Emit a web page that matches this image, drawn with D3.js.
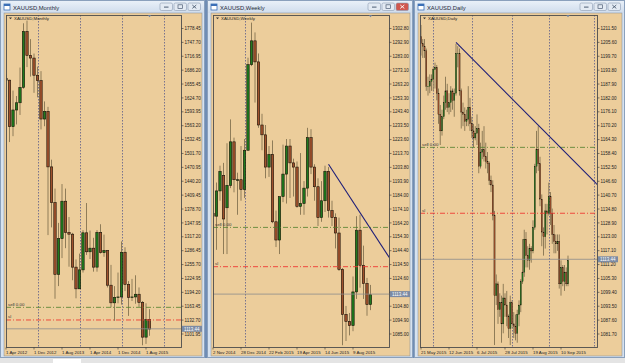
<!DOCTYPE html>
<html>
<head>
<meta charset="utf-8">
<script src="https://cdn.jsdelivr.net/npm/d3@7"></script>
<style>
  body { margin: 0; background: #dde4ec; }
  svg { display: block; }
  text { font-family: "Liberation Sans", Arial, sans-serif; }
</style>
</head>
<body>
<svg id="chart" width="625" height="363"></svg>
<script>
// ---- monthly XAUUSD, Apr 2012 .. Sep 2015  [open, high, low, close]
var monthlyOHLC = [
  [1668,1677,1627,1664],[1664,1665,1527,1561],[1561,1641,1540,1598],[1598,1629,1566,1614],
  [1614,1692,1587,1648],[1648,1790,1645,1772],[1772,1796,1693,1719],[1719,1755,1672,1713],
  [1713,1723,1636,1675],[1675,1694,1626,1663],[1663,1684,1555,1578],[1578,1617,1562,1595],
  [1595,1605,1321,1472],[1472,1488,1338,1393],[1393,1424,1180,1234],[1234,1348,1208,1313],
  [1313,1434,1270,1396],[1396,1424,1292,1327],[1327,1361,1251,1323],[1323,1326,1221,1250],
  [1250,1267,1181,1202],[1202,1280,1202,1244],[1244,1332,1238,1326],[1326,1392,1277,1284],
  [1284,1331,1268,1292],[1292,1315,1240,1250],[1250,1332,1240,1327],[1327,1345,1280,1282],
  [1282,1322,1273,1287],[1287,1287,1205,1210],[1210,1255,1161,1171],[1171,1208,1131,1183],
  [1183,1238,1170,1184],[1184,1307,1167,1283],[1283,1294,1197,1212],[1212,1219,1142,1183],
  [1183,1224,1175,1184],[1184,1232,1169,1190],[1190,1205,1162,1172],[1172,1175,1077,1095],
  [1095,1170,1080,1134],[1134,1157,1098,1113]
]
var monthlyTicks = ['1778.45','1747.70','1716.95','1686.20','1655.45','1624.70','1593.95','1563.20',
  '1532.45','1501.70','1470.95','1440.20','1409.45','1378.70','1347.95','1317.20','1286.45',
  '1255.70','1224.95','1194.20','1163.45','1132.70','1101.95']
var monthlyDates = ['1 Apr 2012','1 Dec 2012','1 Aug 2013','1 Apr 2014','1 Dec 2014','1 Aug 2015']
var monthlyDateIdx = [0, 8, 16, 24, 32, 40]
var monthlySeps = [9, 21, 33, 45]

// ---- weekly XAUUSD, week of 26 Oct 2014 .. 13 Sep 2015
var weeklyOHLC = [
  [1231,1237,1161,1171],[1171,1177,1131,1169],[1169,1193,1145,1187],[1187,1205,1180,1201],
  [1198,1207,1142,1167],[1175,1221,1142,1191],[1191,1238,1189,1222],[1222,1225,1186,1195],
  [1195,1200,1170,1195],[1195,1219,1180,1188],[1188,1224,1182,1216],[1216,1282,1216,1277],
  [1277,1307,1276,1294],[1294,1300,1250,1279],[1279,1285,1232,1234],[1234,1242,1216,1227],
  [1227,1234,1196,1204],[1204,1219,1197,1213],[1213,1223,1164,1165],[1165,1173,1147,1152],
  [1152,1178,1142,1183],[1183,1220,1179,1199],[1199,1224,1178,1219],[1219,1224,1182,1207],
  [1207,1210,1183,1204],[1204,1208,1175,1176],[1176,1214,1170,1178],[1178,1194,1170,1189],
  [1189,1232,1183,1225],[1225,1231,1199,1204],[1204,1206,1180,1190],[1190,1196,1162,1168],
  [1168,1194,1165,1180],[1180,1205,1172,1201],[1201,1204,1168,1173],[1173,1180,1162,1168],
  [1168,1171,1146,1157],[1157,1168,1130,1131],[1131,1132,1077,1099],[1099,1105,1080,1094],
  [1094,1100,1084,1091],[1091,1126,1087,1115],[1115,1169,1110,1159],[1159,1170,1118,1134],
  [1134,1148,1110,1121],[1121,1125,1098,1106],[1106,1120,1102,1113]
]
var weeklyTicks = ['1302.80','1292.90','1283.00','1273.10','1263.20','1253.30','1243.40','1233.50',
  '1223.60','1213.70','1203.80','1193.90','1184.00','1174.10','1164.20','1154.30','1144.40',
  '1134.50','1124.60','1114.70','1104.80','1094.90','1085.00']
var weeklyDates = ['2 Nov 2014','28 Dec 2014','22 Feb 2015','19 Apr 2015','14 Jun 2015','9 Aug 2015']
var weeklyDateIdx = [1, 9, 17, 25, 33, 41]
var weeklySeps = [10]
var weeklyTrend = [[34, 1206], [51.5, 1139]]

// ---- daily XAUUSD, 21 May 2015 .. 16 Sep 2015
var dailyOHLC = [
  [1208,1213,1200,1205],[1205,1207,1199,1204],[1204,1207,1199,1202],[1202,1203,1185,1187],
  [1187,1191,1183,1187],[1187,1192,1184,1189],[1189,1192,1185,1190],[1190,1195,1185,1194],
  [1194,1197,1186,1195],[1195,1196,1181,1184],[1184,1186,1171,1175],[1175,1179,1162,1168],
  [1168,1177,1166,1174],[1174,1183,1173,1180],[1180,1191,1177,1185],[1185,1188,1176,1178],
  [1178,1184,1175,1180],[1180,1187,1176,1185],[1185,1186,1177,1181],[1181,1186,1174,1184],
  [1184,1205,1183,1201],[1201,1204,1195,1201],[1201,1203,1183,1185],[1185,1186,1169,1176],
  [1176,1180,1170,1175],[1175,1178,1168,1172],[1172,1177,1170,1173],[1173,1187,1170,1178],
  [1178,1182,1168,1171],[1171,1174,1165,1168],[1168,1171,1161,1165],[1165,1170,1164,1167],
  [1167,1175,1162,1169],[1169,1171,1150,1153],[1153,1163,1152,1159],[1159,1168,1156,1160],
  [1160,1170,1155,1157],[1157,1163,1152,1155],[1155,1159,1150,1154],[1154,1155,1145,1147],
  [1147,1149,1142,1145],[1145,1147,1130,1132],[1132,1134,1077,1098],[1098,1107,1094,1103],
  [1103,1104,1086,1092],[1092,1099,1089,1095],[1095,1098,1078,1086],[1086,1103,1082,1097],
  [1097,1099,1089,1094],[1094,1100,1085,1089],[1089,1090,1080,1084],[1084,1098,1077,1095],
  [1095,1096,1084,1086],[1086,1091,1080,1085],[1085,1090,1079,1082],[1082,1092,1078,1090],
  [1090,1096,1085,1094],[1094,1105,1091,1104],[1104,1122,1103,1108],[1108,1126,1106,1122],
  [1122,1125,1110,1115],[1115,1119,1110,1113],[1113,1120,1109,1118],[1118,1119,1112,1117],
  [1117,1130,1116,1127],[1127,1154,1126,1153],[1153,1168,1150,1160],[1160,1170,1151,1154],
  [1154,1157,1136,1139],[1139,1141,1119,1125],[1125,1127,1115,1123],[1123,1137,1118,1134],
  [1134,1137,1124,1133],[1133,1146,1132,1140],[1140,1142,1128,1133],[1133,1135,1120,1124],
  [1124,1128,1116,1121],[1121,1124,1116,1120],[1120,1124,1117,1121],[1121,1124,1101,1103],
  [1103,1113,1098,1110],[1110,1111,1102,1104],[1104,1111,1100,1108],[1108,1110,1102,1103],
  [1103,1115,1102,1113]
]
var dailyTicks = ['1211.50','1205.60','1199.70','1193.80','1187.90','1182.00','1176.10','1170.20',
  '1164.30','1158.40','1152.50','1146.60','1140.70','1134.80','1128.90','1123.00','1117.10',
  '1111.20','1105.30','1099.40','1093.50','1087.60','1081.70']
var dailyDates = ['21 May 2015','12 Jun 2015','6 Jul 2015','28 Jul 2015','19 Aug 2015','10 Sep 2015']
var dailyDateIdx = [0, 16, 32, 48, 64, 80]
var dailySeps = [7, 29, 52, 73, 99]
var dailyTrend = [[20, 1205.6], [101, 1145]]

var lastPrice = 1113.44
var sellPrice = 1161
var slPrice = 1133

var panels = [
  { winL: 0, winR: 205, plotL: 6, plotR: 181, title: 'XAUUSD,Monthly', bars: monthlyOHLC,
    ticks: monthlyTicks, dates: monthlyDates, dateIdx: monthlyDateIdx, seps: monthlySeps,
    x0: 6, step: 3.5, bodyW: 2.4, trend: null, active: false },
  { winL: 207, winR: 413, plotL: 213, plotR: 389, title: 'XAUUSD,Weekly', bars: weeklyOHLC,
    ticks: weeklyTicks, dates: weeklyDates, dateIdx: weeklyDateIdx, seps: weeklySeps,
    x0: 209.5, step: 3.5, bodyW: 2.4, trend: weeklyTrend, active: true },
  { winL: 414, winR: 625, plotL: 420, plotR: 597, title: 'XAUUSD,Daily', bars: dailyOHLC,
    ticks: dailyTicks, dates: dailyDates, dateIdx: dailyDateIdx, seps: dailySeps,
    x0: 421, step: 1.75, bodyW: 1.2, trend: dailyTrend, active: false }
]

var svg = d3.select('#chart')
var plotTop = 15, plotBottom = 347
var tan = '#eccd9b'

var defs = svg.append('defs')
var grad = defs.append('linearGradient').attr('id', 'titlebar')
  .attr('x1', 0).attr('y1', 0).attr('x2', 0).attr('y2', 1)
grad.append('stop').attr('offset', '0%').attr('stop-color', '#e9f0f8')
grad.append('stop').attr('offset', '100%').attr('stop-color', '#cfdcec')

// mdi background + strip at the bottom
svg.append('rect').attr('x', 0).attr('y', 0).attr('width', 625).attr('height', 363).attr('fill', '#6f8db5')
svg.append('rect').attr('x', 0).attr('y', 358).attr('width', 625).attr('height', 5).attr('fill', '#e4e4e4')
svg.append('rect').attr('x', 53).attr('y', 359).attr('width', 28).attr('height', 4).attr('fill', '#ffffff')

panels.forEach(function(p, pi) {
  var g = svg.append('g')
  var winW = p.winR - p.winL

  // window frame + title bar
  g.append('rect').attr('x', p.winL + 0.5).attr('y', 0.5).attr('width', winW - 1).attr('height', 357)
    .attr('fill', '#d6e2f0').attr('stroke', '#8aa0bc')
  g.append('rect').attr('x', p.winL + 1).attr('y', 1).attr('width', winW - 2).attr('height', 12)
    .attr('fill', 'url(#titlebar)')
  // icon
  g.append('rect').attr('x', p.winL + 4).attr('y', 4).attr('width', 6).attr('height', 6)
    .attr('fill', '#ffffff').attr('stroke', '#3b6fb6').attr('stroke-width', 0.8)
  g.append('rect').attr('x', p.winL + 4).attr('y', 4).attr('width', 6).attr('height', 2).attr('fill', '#3b6fb6')
  g.append('text').attr('x', p.winL + 13).attr('y', 10).attr('font-size', 5.8).attr('fill', '#1e2a3a')
    .text(p.title)
  // min / max / close buttons
  ;[0, 1, 2].forEach(function(b) {
    var bx = p.winR - 45 + b * 14
    var isClose = b === 2
    g.append('rect').attr('x', bx).attr('y', 3).attr('width', 12.5).attr('height', 7.5).attr('rx', 1.5)
      .attr('fill', isClose && p.active ? '#d0574e' : '#e3eaf3').attr('stroke', '#8b9bb1').attr('stroke-width', 0.6)
    var c = isClose && p.active ? '#ffffff' : '#4d5d74'
    if (b === 0) g.append('rect').attr('x', bx + 4).attr('y', 6.6).attr('width', 4.5).attr('height', 1).attr('fill', c)
    if (b === 1) g.append('rect').attr('x', bx + 4).attr('y', 4.8).attr('width', 4.5).attr('height', 3.6)
      .attr('fill', 'none').attr('stroke', c).attr('stroke-width', 0.7)
    if (b === 2) g.append('path').attr('d', 'M' + (bx + 4.3) + ',5 l4,3.4 M' + (bx + 8.3) + ',5 l-4,3.4')
      .attr('stroke', c).attr('stroke-width', 0.9)
  })

  // chart background
  g.append('rect').attr('x', p.winL + 4).attr('y', 13).attr('width', winW - 7).attr('height', 343)
    .attr('fill', tan).attr('stroke', '#7f8a99').attr('stroke-width', 0.5)

  var y = d3.scaleLinear()
    .domain([+p.ticks[p.ticks.length - 1], +p.ticks[0]])
    .range([334, 28.5])
  var x = d3.scaleLinear().domain([0, 1]).range([p.x0, p.x0 + p.step])

  var clipId = 'clip' + pi
  defs.append('clipPath').attr('id', clipId).append('rect')
    .attr('x', p.plotL).attr('y', plotTop).attr('width', p.plotR - p.plotL).attr('height', plotBottom - plotTop)
  var plot = g.append('g').attr('clip-path', 'url(#' + clipId + ')')

  // period separators
  plot.selectAll('line.sep').data(p.seps).enter().append('line')
    .attr('x1', function(d) { return Math.round(x(d)) + 0.5 })
    .attr('x2', function(d) { return Math.round(x(d)) + 0.5 })
    .attr('y1', plotTop).attr('y2', plotBottom)
    .attr('stroke', '#5c5c8a').attr('stroke-width', 0.8).attr('stroke-dasharray', '1.5,1.5')

  // candles
  var candles = plot.selectAll('g.candle').data(p.bars).enter().append('g')
  candles.append('line')
    .attr('x1', function(d, i) { return x(i) }).attr('x2', function(d, i) { return x(i) })
    .attr('y1', function(d) { return y(d[1]) }).attr('y2', function(d) { return y(d[2]) })
    .attr('stroke', '#8f7c58').attr('stroke-width', 1)
  candles.append('rect')
    .attr('x', function(d, i) { return x(i) - p.bodyW / 2 })
    .attr('y', function(d) { return y(Math.max(d[0], d[3])) })
    .attr('width', p.bodyW)
    .attr('height', function(d) { return Math.max(0.6, Math.abs(y(d[0]) - y(d[3]))) })
    .attr('fill', function(d) { return d[3] >= d[0] ? '#1f7a1f' : '#a0522d' })
    .attr('stroke', '#1a1208').attr('stroke-width', p.step < 2 ? 0.3 : 0.6)

  // order lines
  plot.append('line').attr('x1', p.plotL).attr('x2', p.plotR)
    .attr('y1', y(sellPrice)).attr('y2', y(sellPrice))
    .attr('stroke', '#4f7f2c').attr('stroke-width', 0.8).attr('stroke-dasharray', '5,2,1,2')
  plot.append('line').attr('x1', p.plotL).attr('x2', p.plotR)
    .attr('y1', y(slPrice)).attr('y2', y(slPrice))
    .attr('stroke', '#ee3b33').attr('stroke-width', 0.9).attr('stroke-dasharray', '5,2,1,2')
  plot.append('line').attr('x1', p.plotL).attr('x2', p.plotR)
    .attr('y1', y(lastPrice)).attr('y2', y(lastPrice))
    .attr('stroke', '#8d8d8d').attr('stroke-width', 0.8)
  g.append('text').attr('x', p.plotL + 2).attr('y', y(sellPrice) - 1.5).attr('font-size', 4.4)
    .attr('fill', '#333').text('sell 0.00')
  g.append('text').attr('x', p.plotL + 2).attr('y', y(slPrice) - 1.5).attr('font-size', 4.4)
    .attr('fill', '#333').text('sl')

  // trend line
  if (p.trend) {
    plot.append('line')
      .attr('x1', x(p.trend[0][0])).attr('y1', y(p.trend[0][1]))
      .attr('x2', x(p.trend[1][0])).attr('y2', y(p.trend[1][1]))
      .attr('stroke', '#1c1c78').attr('stroke-width', 1.1)
  }

  // plot frame
  g.append('rect').attr('x', p.plotL + 0.5).attr('y', plotTop + 0.5)
    .attr('width', p.plotR - p.plotL).attr('height', plotBottom - plotTop)
    .attr('fill', 'none').attr('stroke', '#4d4d4d').attr('stroke-width', 0.9)

  // chart legend
  g.append('path').attr('d', 'M' + (p.plotL + 3) + ',17.5 l3,0 l-1.5,1.8 z').attr('fill', '#333')
  g.append('text').attr('x', p.plotL + 8).attr('y', 19.8).attr('font-size', 4.4).attr('fill', '#222')
    .text(p.title)
  // chart shift marker
  var sx = x(p.bars.length - 1)
  g.append('path').attr('d', 'M' + (sx - 1.8) + ',15 l3.6,0 l-1.8,2.2 z').attr('fill', '#6d7f9c')

  // price axis (labels hidden under the bid box are skipped, as the terminal does)
  var by = y(lastPrice)
  var shownTicks = p.ticks.filter(function(d) { return Math.abs(y(+d) - by) > 4.5 })
  var yAxis = g.append('g')
  yAxis.selectAll('line').data(p.ticks).enter().append('line')
    .attr('x1', p.plotR + 0.5).attr('x2', p.plotR + 2.5)
    .attr('y1', function(d) { return y(+d) }).attr('y2', function(d) { return y(+d) })
    .attr('stroke', '#333').attr('stroke-width', 0.6)
  yAxis.selectAll('text').data(shownTicks).enter().append('text')
    .attr('x', p.plotR + 3.5).attr('y', function(d) { return y(+d) + 1.6 })
    .attr('font-size', 4.5).attr('fill', '#222')
    .text(function(d) { return d })
  g.append('rect').attr('x', p.plotR + 1).attr('y', by - 3).attr('width', 20).attr('height', 6)
    .attr('fill', '#7b8aa3')
  g.append('text').attr('x', p.plotR + 3).attr('y', by + 1.7).attr('font-size', 4.5).attr('fill', '#ffffff')
    .text(lastPrice.toFixed(2))

  // time axis
  var xAxis = g.append('g')
  xAxis.selectAll('line').data(p.dateIdx).enter().append('line')
    .attr('x1', function(d) { return x(d) }).attr('x2', function(d) { return x(d) })
    .attr('y1', plotBottom + 0.5).attr('y2', plotBottom + 2.5)
    .attr('stroke', '#333').attr('stroke-width', 0.6)
  xAxis.selectAll('text').data(p.dates).enter().append('text')
    .attr('x', function(d, i) { return Math.max(p.plotL, x(p.dateIdx[i])) })
    .attr('y', 353.5).attr('font-size', 4.4).attr('fill', '#222')
    .text(function(d) { return d })
})
</script>
</body>
</html>
